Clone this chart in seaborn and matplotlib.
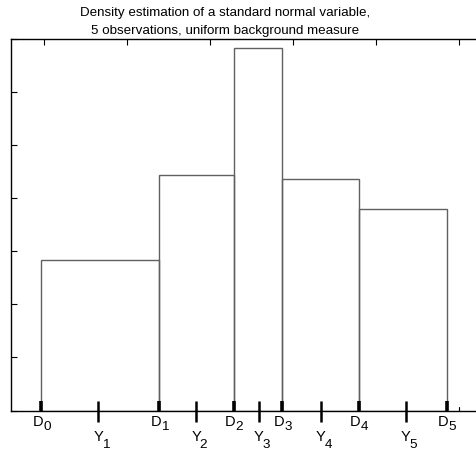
import matplotlib
matplotlib.use("Agg")
import matplotlib.pyplot as plt
import seaborn as sns
import numpy as np

sns.set_style("white")
plt.rcParams['font.family'] = ['Liberation Sans', 'DejaVu Sans']
plt.rcParams['text.color'] = 'black'

# Data
edges = [-2.036, -0.614, 0.286, 0.871, 1.795, 2.852]      # D0..D5
heights = [0.1416, 0.2216, 0.3411, 0.2178, 0.1896]         # density in each bin
obs = [-1.346, -0.169, 0.587, 1.334, 2.361]                # Y1..Y5
d_labels = ["0", "1", "2", "3", "4", "5"]
y_labels = ["1", "2", "3", "4", "5"]
title_lines = ["Density estimation of a standard normal variable,",
               "5 observations, uniform background measure"]

W, H = 477, 456
fig = plt.figure(figsize=(W / 100, H / 100), dpi=100)
ax = fig.add_axes([11 / W, (H - 411.5) / H, (492 - 11) / W, 372 / H])

sns.histplot(x=edges[:-1], weights=heights, bins=edges, stat="count",
             element="bars", fill=False, color="#606060", linewidth=1.0, ax=ax)
for p in ax.patches:
    p.set_edgecolor("#606060")

ax.set_xlim(-2.4, 3.4)
ax.set_ylim(0, 0.35)
ax.set_xlabel("")
ax.set_ylabel("")
ax.set_yticks(np.arange(0, 0.351, 0.05))
ax.set_xticks([-2, -1, 0, 1, 2, 3])
ax.set_yticklabels([])
ax.set_xticklabels([])
ax.tick_params(axis="both", direction="in", length=4, width=0.8, color="black",
               top=True, bottom=False, left=True, right=False)
for s in ax.spines.values():
    s.set_color("black")
    s.set_linewidth(1.0)
# small bottom tick at 3
ax.plot([3, 3], [0, 4 / 372], transform=ax.get_xaxis_transform(), color="black", lw=0.8)

trans = ax.get_xaxis_transform()
ax.vlines(edges, 0, 10 / 372, transform=trans, color="black", lw=2.6, clip_on=False)
ax.vlines(obs, -11 / 372, 10 / 372, transform=trans, color="black", lw=1.8, clip_on=False)

k = 0.72  # px -> pt
fs = 10.5
for x, s in zip(edges, d_labels):
    ax.annotate("D", xy=(x, 0), xycoords=trans, xytext=(-3.5 * k, -10.7 * k),
                textcoords="offset points", ha="center", va="center", fontsize=fs)
    ax.annotate(s, xy=(x, 0), xycoords=trans, xytext=(5.8 * k, -16 * k),
                textcoords="offset points", ha="center", va="center", fontsize=fs - 0.8)
for x, s in zip(obs, y_labels):
    ax.annotate("Y", xy=(x, 0), xycoords=trans, xytext=(0, -26 * k),
                textcoords="offset points", ha="center", va="center", fontsize=fs)
    ax.annotate(s, xy=(x, 0), xycoords=trans, xytext=(7.5 * k, -34 * k),
                textcoords="offset points", ha="center", va="center", fontsize=fs - 0.8)

for line, yb in zip(title_lines, [16, 34]):
    fig.text(225 / W, 1 - yb / H, line, ha="center", va="baseline", fontsize=9.6)

fig.savefig("out.png", dpi=100)
